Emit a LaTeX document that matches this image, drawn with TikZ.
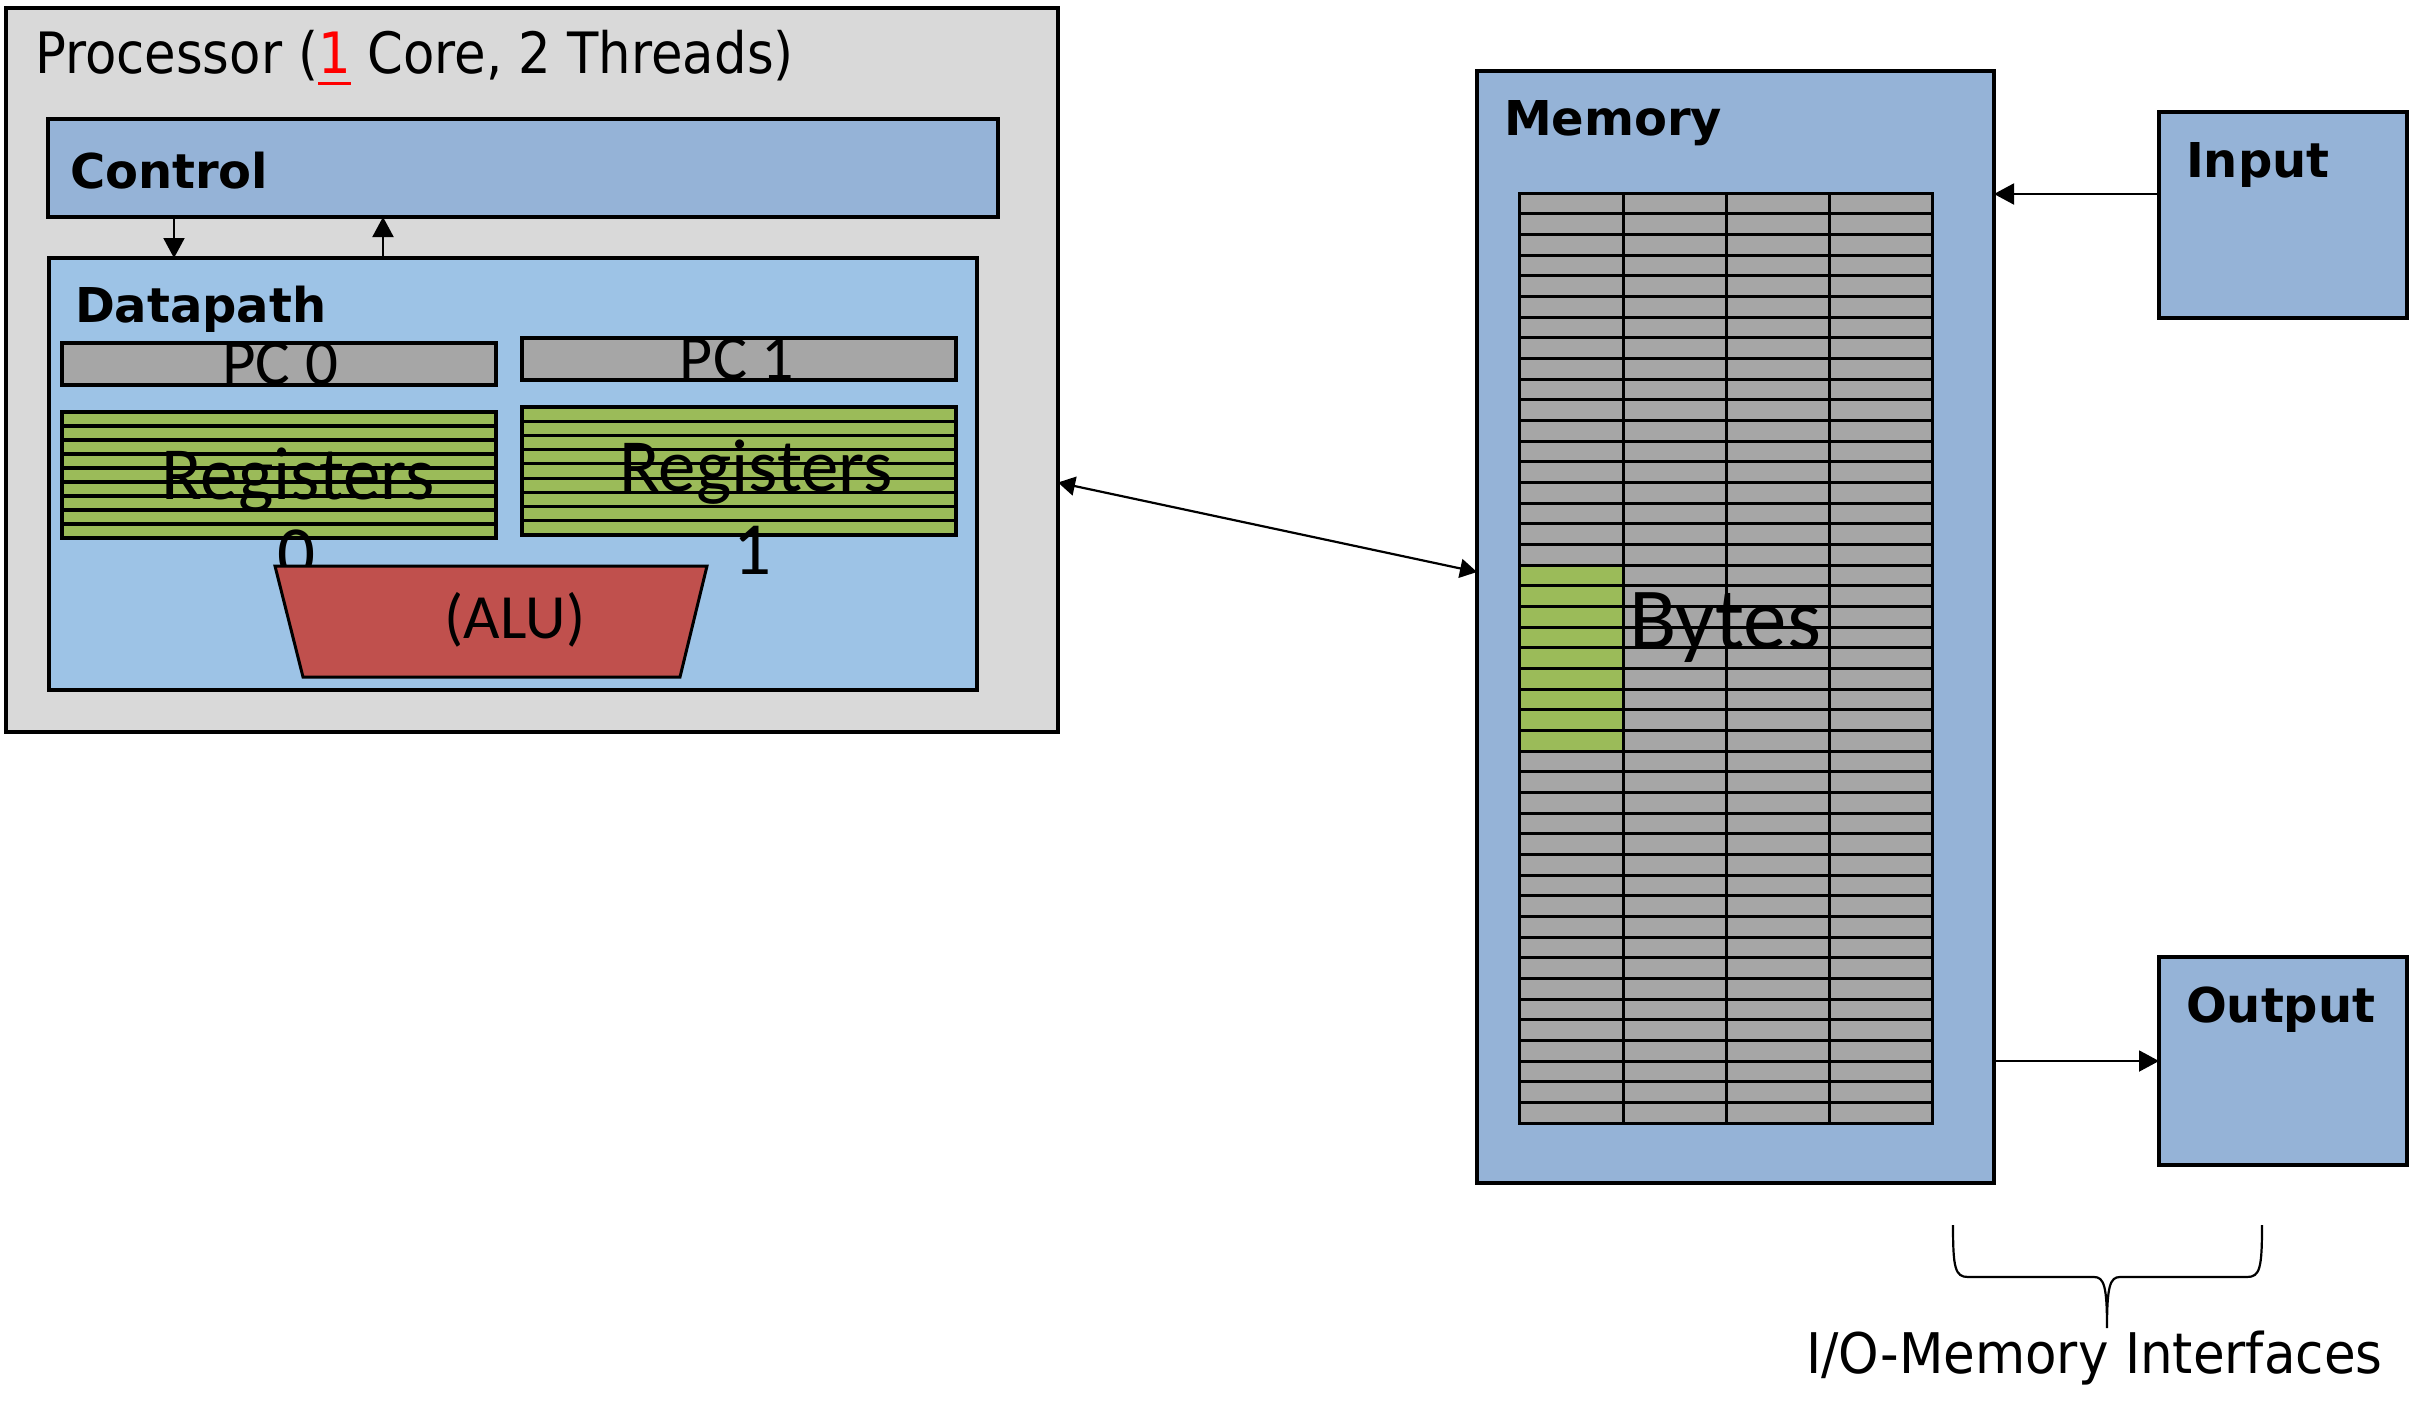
\documentclass[tikz,border=0pt]{standalone}
\usepackage{fontspec}
\setmainfont{DejaVu Sans}
\newfontfamily\tahr[FakeStretch=0.9]{DejaVu Sans}
\newfontfamily\tahw[FakeStretch=0.92]{DejaVu Sans}
\newfontfamily\tahb{DejaVu Sans}
\newfontfamily\carl{Carlito}
\usetikzlibrary{arrows.meta}
\definecolor{procgray}{HTML}{D9D9D9}
\definecolor{ctrlblue}{HTML}{95B3D7}
\definecolor{dpblue}{HTML}{9DC3E6}
\definecolor{pcgray}{HTML}{A6A6A6}
\definecolor{reggreen}{HTML}{9BBB59}
\definecolor{alured}{HTML}{C0504D}
\newcommand\redone{{\color{red}\setbox0\hbox{1}\rlap{\rule[-12pt]{\wd0}{3.5pt}}\box0}}
\begin{document}
\begin{tikzpicture}[x=1pt,y=-1pt,
  box/.style={draw=black, line width=3.5pt, inner sep=0pt, outer sep=0pt, anchor=north west},
  lbl/.style={inner sep=0pt, outer sep=0pt, anchor=base west, font={\tahb\bfseries\fontsize{48}{52}\selectfont}},
  ttl/.style={inner sep=0pt, outer sep=0pt, anchor=base west, font={\tahr\fontsize{57}{60}\selectfont}},
  cal/.style={inner sep=0pt, outer sep=0pt, anchor=base},
  stripe/.style={line width=3.2pt},
  arr/.style={line width=2pt, -{Triangle[length=20pt,width=21pt]}},
  biarr/.style={line width=2.2pt, {Triangle[length=17pt,width=19pt]}-{Triangle[length=17pt,width=19pt]}}]
\fill[white] (0,0) rectangle (2431,1403);
\useasboundingbox (0,0) rectangle (2431,1403);

% Processor
\node[box, fill=procgray, minimum width=1052pt, minimum height=724pt] (proc) at (6,8) {};
\node[ttl] (tproc) at (35,73) {Processor (\redone\ Core, 2 Threads)};

% Control
\node[box, fill=ctrlblue, minimum width=950pt, minimum height=98pt] (ctrl) at (48,119) {};
\node[lbl] (tctrl) at (70,188) {Control};

% Datapath
\node[box, fill=dpblue, minimum width=928pt, minimum height=432pt] (dp) at (49,258) {};
\node[lbl] (tdp) at (75,322) {Datapath};

% PCs
\node[box, fill=pcgray, minimum width=434pt, minimum height=42pt] (pc0) at (62,343) {};
\node[box, fill=pcgray, minimum width=434pt, minimum height=42pt] (pc1) at (522,338) {};

% Registers
\node[box, fill=reggreen, minimum width=434pt, minimum height=126pt] (reg0) at (62,412) {};
\node[box, fill=reggreen, minimum width=434pt, minimum height=128pt] (reg1) at (522,407) {};
\foreach \i in {1,...,8} {
  \draw[stripe] (62,412+14*\i) -- (496,412+14*\i);
  \draw[stripe] (522,407+14.22*\i) -- (956,407+14.22*\i);
}

\node[cal, font={\carl\fontsize{65}{67}\selectfont}] (tpc0) at (280,384) {PC 0};
\node[cal, font={\carl\fontsize{64}{66}\selectfont}] (tpc1) at (737,379) {PC 1};
\node[cal, font={\carl\fontsize{75}{77}\selectfont}] (treg0) at (298,499) {Registers};
\node[cal, font={\carl\fontsize{75}{77}\selectfont}] (treg0n) at (297,578) {0};
\node[cal, font={\carl\fontsize{75}{77}\selectfont}] (treg1) at (756,491) {Registers};
\node[cal, font={\carl\fontsize{75}{77}\selectfont}] (treg1n) at (752,574) {1};

% ALU
\filldraw[fill=alured, draw=black, line width=3pt, line join=miter] (275,566) -- (707,566) -- (680,677) -- (303,677) -- cycle;
\node[cal, font={\carl\fontsize{63}{65}\selectfont}] (talu) at (515,638) {(ALU)};

% Control <-> Datapath arrows
\draw[arr] ([xshift=126pt]ctrl.south west) -- ([xshift=125pt]dp.north west);
\draw[arr] ([xshift=334pt]dp.north west) -- ([xshift=335pt]ctrl.south west);

% Memory
\node[box, fill=ctrlblue, minimum width=517pt, minimum height=1112pt] (mem) at (1477,71) {};
\node[lbl] (tmem) at (1504,135) {Memory};
\node[box, fill=pcgray, line width=3pt, minimum width=413pt, minimum height=930pt] (grid) at (1519,193) {};
\fill[reggreen] (1519,565) rectangle (1623,751);
\foreach \i in {1,...,44} {
  \draw[line width=3pt] (1519,193+20.667*\i) -- (1932,193+20.667*\i);
}
\foreach \xx in {1623,1726,1829} {
  \draw[line width=3pt] (\xx,193) -- (\xx,1123);
}
\draw[line width=3pt] (1519,193) rectangle (1932,1123);
\node[cal, font={\carl\fontsize{87}{89}\selectfont}] (tbytes) at (1725,648) {Bytes};

% Input / Output
\node[box, fill=ctrlblue, minimum width=248pt, minimum height=206pt] (inp) at (2159,112) {};
\node[lbl] (tinp) at (2186,177) {Input};
\node[box, fill=ctrlblue, minimum width=248pt, minimum height=208pt] (outp) at (2159,957) {};
\node[lbl] (toutp) at (2186,1022) {Output};

\draw[arr] ([yshift=21pt]inp.west) -- ([yshift=433pt]mem.east);
\draw[arr] ([yshift=-434pt]mem.east) -- (outp.west);

% Processor <-> Memory
\draw[biarr] ([yshift=-112.5pt]proc.east) -- ([yshift=55pt]mem.west);

% Brace
\draw[line width=2.2pt] (1953,1225) .. controls (1953,1268) and (1955,1277) .. (1968,1277)
  -- (2094,1277) .. controls (2104,1277) and (2107,1286) .. (2107,1328)
  .. controls (2107,1286) and (2110,1277) .. (2120,1277)
  -- (2247,1277) .. controls (2260,1277) and (2262,1268) .. (2262,1225);
\node[inner sep=0pt, outer sep=0pt, anchor=base west, font={\tahw\fontsize{56}{60}\selectfont}] (tio) at (1806,1373) {I/O-Memory Interfaces};
\end{tikzpicture}
\end{document}
